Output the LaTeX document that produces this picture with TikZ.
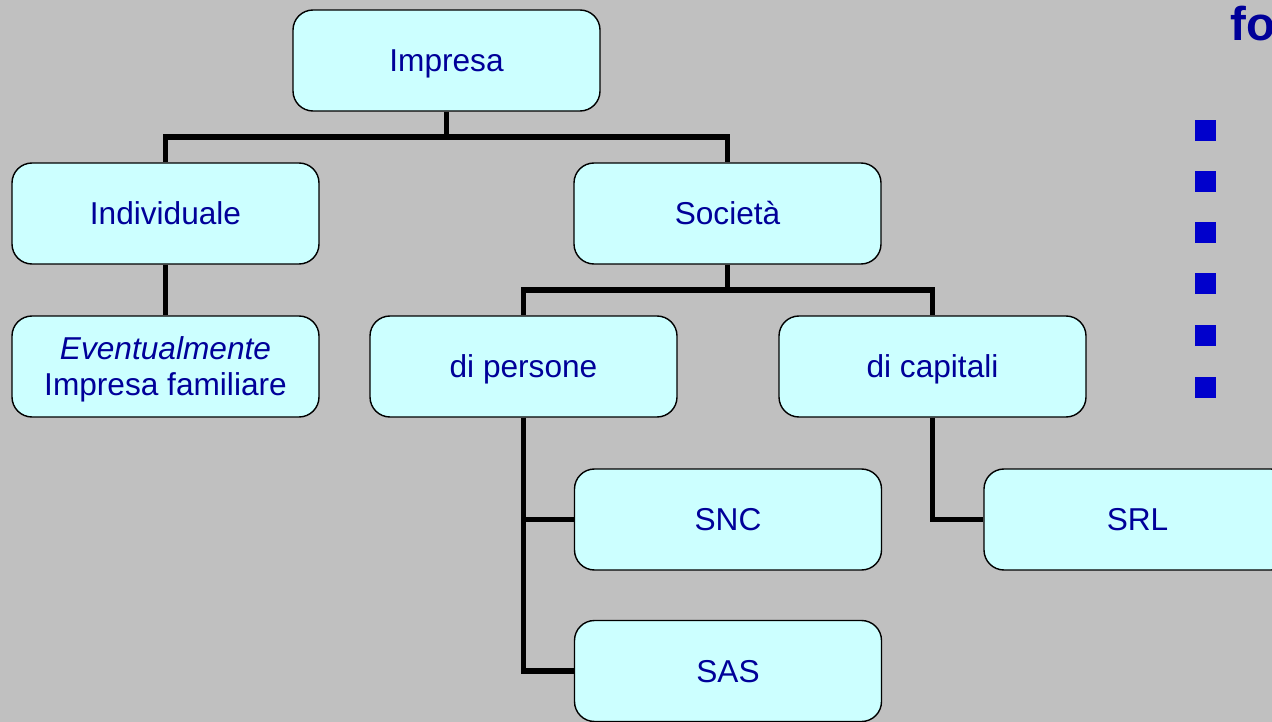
\documentclass[tikz,border=0pt]{standalone}
\usepackage{fontspec}
\setmainfont{Liberation Sans}
\usepackage{tikz}

\definecolor{slidegray}{HTML}{C0C0C0}
\definecolor{boxcyan}{HTML}{CCFFFF}
\definecolor{textblue}{HTML}{000099}
\definecolor{bulletblue}{HTML}{0000CC}

\begin{document}
\begin{tikzpicture}[
    orgbox/.style={draw=black, line width=0.8pt, fill=boxcyan, rounded corners=0.4cm,
        minimum width=6.14cm, minimum height=2.02cm, inner sep=0pt, align=center,
        text=textblue, font=\fontsize{18}{20.5}\selectfont,
        text height=13pt, text depth=0pt},
    link/.style={line width=2.9pt, black}]
    \useasboundingbox (0,0) rectangle (25.44,-14.44);
    \clip (0,0) rectangle (25.44,-14.44);
    \fill[slidegray] (0,0) rectangle (25.44,-14.44);

    \coordinate (bartop) at (8.93,-2.74);
    \coordinate (barmid) at (14.55,-5.80);

    \node[orgbox] (impresa) at (8.93,-1.21) {Impresa};
    \node[orgbox] (individuale) at (3.31,-4.27) {Individuale};
    \node[orgbox] (societa) at (14.55,-4.27) {Società};
    \node[orgbox, text height=33.5pt] (familiare) at (3.31,-7.33) {\textit{Eventualmente}\\Impresa familiare};
    \node[orgbox] (persone) at (10.47,-7.33) {di persone};
    \node[orgbox] (capitali) at (18.65,-7.33) {di capitali};
    \node[orgbox] (snc) at (14.56,-10.39) {SNC};
    \node[orgbox] (sas) at (14.56,-13.42) {SAS};
    \node[orgbox] (srl) at (22.75,-10.39) {SRL};

    \draw[link] (impresa.south) -- (bartop) -| (individuale.north);
    \draw[link] (bartop) -| (societa.north);
    \draw[link] (individuale.south) -- (familiare.north);
    \draw[link] (societa.south) -- (barmid) -| (persone.north);
    \draw[link] (barmid) -| (capitali.north);
    \draw[link] (persone.south) |- (snc.west);
    \draw[link] (persone.south) |- (sas.west);
    \draw[link] (capitali.south) |- (srl.west);

    \node[anchor=base west, inner sep=0pt, text=textblue,
        font=\fontsize{27}{32}\bfseries\selectfont] (titolo) at (24.6,-0.82) {fo};
    \foreach \y in {-2.40,-3.43,-4.45,-5.47,-6.49,-7.53}
        \fill[bulletblue] (23.9,\y) rectangle ++(0.42,-0.42);
\end{tikzpicture}
\end{document}
